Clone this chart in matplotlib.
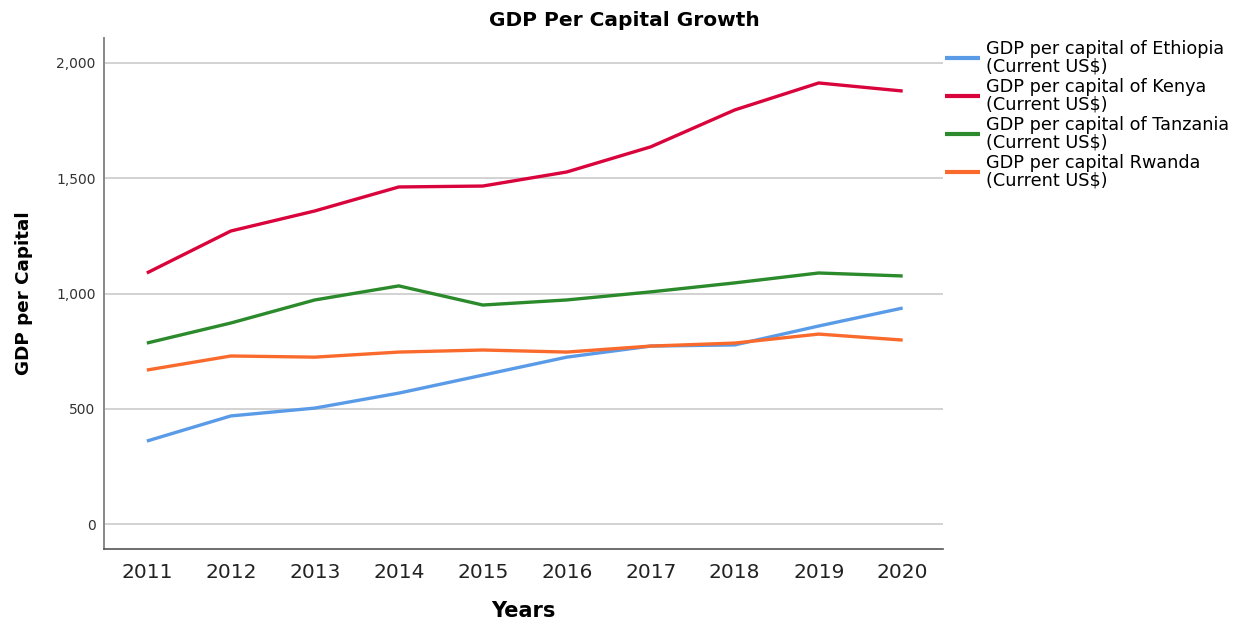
import matplotlib
matplotlib.use('Agg')
import matplotlib.pyplot as plt
from matplotlib.ticker import FuncFormatter

plt.rcParams.update({
    "font.family": ["DejaVu Sans"],
})

# ---- Data ----
years = [2011, 2012, 2013, 2014, 2015, 2016, 2017, 2018, 2019, 2020]
ethiopia = [360, 469, 503, 568, 646, 724, 772, 777, 859, 937]
kenya = [1089, 1271, 1358, 1462, 1466, 1527, 1636, 1796, 1913, 1878]
tanzania = [785, 872, 972, 1033, 950, 972, 1007, 1046, 1089, 1076]
rwanda = [668, 729, 724, 746, 755, 746, 772, 785, 824, 798]

labels = [
    'GDP per capital of Ethiopia\n(Current US\\$)',
    'GDP per capital of Kenya\n(Current US\\$)',
    'GDP per capital of Tanzania\n(Current US\\$)',
    'GDP per capital Rwanda\n(Current US\\$)',
]
colors = ['#5a9be8', '#d9043c', '#2b8a2b', '#fa6a2c']
series = [ethiopia, kenya, tanzania, rwanda]

W, H = 1238, 624
fig = plt.figure(figsize=(W / 100, H / 100), dpi=100)
ax = fig.add_axes([104 / W, 1 - 549 / H, (943 - 104) / W, (549 - 38) / H])

for vals, lab, c in zip(series, labels, colors):
    ax.plot(years, vals, color=c, lw=2.4, label=lab, zorder=3,
            solid_capstyle='butt')

ax.set_xlim(2010.49, 2020.48)
ax.set_ylim(-108, 2108)
ax.set_xticks(years)
ax.set_yticks([0, 500, 1000, 1500, 2000])
ax.yaxis.set_major_formatter(FuncFormatter(lambda v, p: f'{int(v):,}'))
ax.tick_params(axis='x', length=0, labelsize=14.5, pad=10,
               labelcolor='#222222')
ax.tick_params(axis='y', length=0, labelsize=10, pad=6,
               labelcolor='#333333')

ax.grid(axis='y', color='#cfcfcf', lw=1.3, zorder=0)
ax.set_axisbelow(True)
for s in ['top', 'right']:
    ax.spines[s].set_visible(False)
ax.spines['left'].set_color('#888888')
ax.spines['left'].set_linewidth(1.4)
ax.spines['bottom'].set_color('#555555')
ax.spines['bottom'].set_linewidth(1.2)

fig.text(0.504, 1 - 20 / H, 'GDP Per Capital Growth', fontsize=14.5,
         fontweight='bold', ha='center', va='center')
ax.set_xlabel('Years', fontsize=15, fontweight='bold', labelpad=14)
ax.set_ylabel('GDP per Capital', fontsize=13.2, fontweight='bold',
              labelpad=17)

leg = ax.legend(loc='upper left', bbox_to_anchor=(945 / W, 1 - 40 / H),
                bbox_transform=fig.transFigure,
                frameon=False, fontsize=12.7, handlelength=2.0,
                handletextpad=0.3, labelspacing=0.17, borderaxespad=0.0,
                borderpad=0.0)
for t in leg.get_texts():
    t.set_linespacing(0.93)
for h in leg.get_lines():
    h.set_linewidth(3)

fig.savefig('out.png', dpi=100, facecolor='white')
